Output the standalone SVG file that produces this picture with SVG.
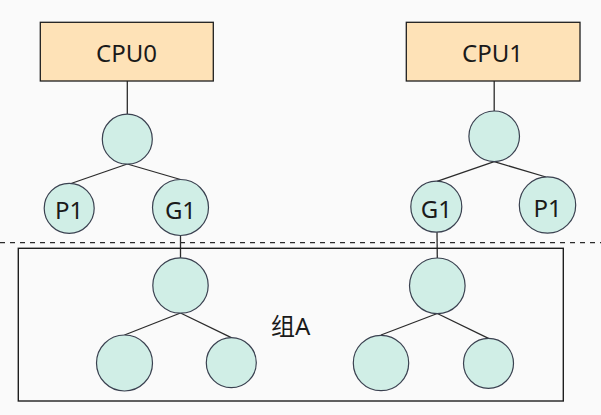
<svg xmlns="http://www.w3.org/2000/svg" width="601" height="415" viewBox="0 0 601 415">
<style>
.box{fill:#fee2b7;stroke:#1e1e1e;stroke-width:1.3}
.c{fill:#d0eee6;stroke:#3a4150;stroke-width:1.2}
.ln{stroke:#2b2b2b;stroke-width:1.3;fill:none}
.t{font-family:"Noto Sans","Noto Sans CJK SC",sans-serif;font-size:24px;fill:#1a1a1a;text-anchor:middle}
</style>
<rect width="601" height="415" fill="#fafafa"/>
<g id="connectors">
<line class="ln" x1="127.3" y1="81" x2="127.3" y2="114"/>
<line class="ln" x1="127.3" y1="164" x2="71" y2="183.5"/>
<line class="ln" x1="127.3" y1="164" x2="180.5" y2="179.5"/>
<line class="ln" x1="180.5" y1="235.5" x2="180.5" y2="258"/>
<line class="ln" x1="180.5" y1="313" x2="124.5" y2="335"/>
<line class="ln" x1="180.5" y1="313" x2="231.3" y2="337.7"/>
<line class="ln" x1="494.2" y1="81" x2="494.2" y2="111.3"/>
<line class="ln" x1="494.2" y1="161.7" x2="437" y2="181.4"/>
<line class="ln" x1="494.2" y1="161.7" x2="546" y2="177"/>
<line class="ln" x1="437" y1="232" x2="437.3" y2="258"/>
<line class="ln" x1="437.3" y1="313.5" x2="381" y2="335"/>
<line class="ln" x1="437.3" y1="313.5" x2="488.5" y2="338.3"/>
<line x1="0" y1="242.7" x2="601" y2="242.7" stroke="#2b2b2b" stroke-width="1.2" stroke-dasharray="5,5"/>
</g>
<g id="groupA">
<rect x="18.3" y="248.3" width="545" height="152.7" fill="none" stroke="#1e1e1e" stroke-width="1.4"/>
<text class="t" x="290.7" y="335">组A</text>
</g>
<g id="cpu0"><rect class="box" x="40.3" y="22.3" width="173" height="58.7"/><text class="t" x="126.5" y="62">CPU0</text></g>
<g id="cpu1"><rect class="box" x="406.3" y="22.3" width="173.7" height="58.7"/><text class="t" x="492.5" y="62">CPU1</text></g>
<g id="n0root"><circle class="c" cx="127.3" cy="139.2" r="25"/></g>
<g id="n0p1"><circle class="c" cx="69.2" cy="208.3" r="25"/><text class="t" x="69" y="219">P1</text></g>
<g id="n0g1"><circle class="c" cx="180.5" cy="207.5" r="28"/><text class="t" x="180.5" y="219">G1</text></g>
<g id="n1root"><circle class="c" cx="494.2" cy="136.3" r="25.3"/></g>
<g id="n1g1"><circle class="c" cx="436.3" cy="206.7" r="25.5"/><text class="t" x="436.3" y="218">G1</text></g>
<g id="n1p1"><circle class="c" cx="547.5" cy="205" r="28.2"/><text class="t" x="547.5" y="216.5">P1</text></g>
<g id="a0root"><circle class="c" cx="180.5" cy="285.5" r="27.7"/></g>
<g id="a0l"><circle class="c" cx="124.5" cy="363" r="28"/></g>
<g id="a0r"><circle class="c" cx="231.3" cy="362.7" r="25"/></g>
<g id="a1root"><circle class="c" cx="437.3" cy="285.8" r="27.8"/></g>
<g id="a1l"><circle class="c" cx="381" cy="363" r="27.7"/></g>
<g id="a1r"><circle class="c" cx="488.5" cy="363.3" r="25"/></g>
</svg>
